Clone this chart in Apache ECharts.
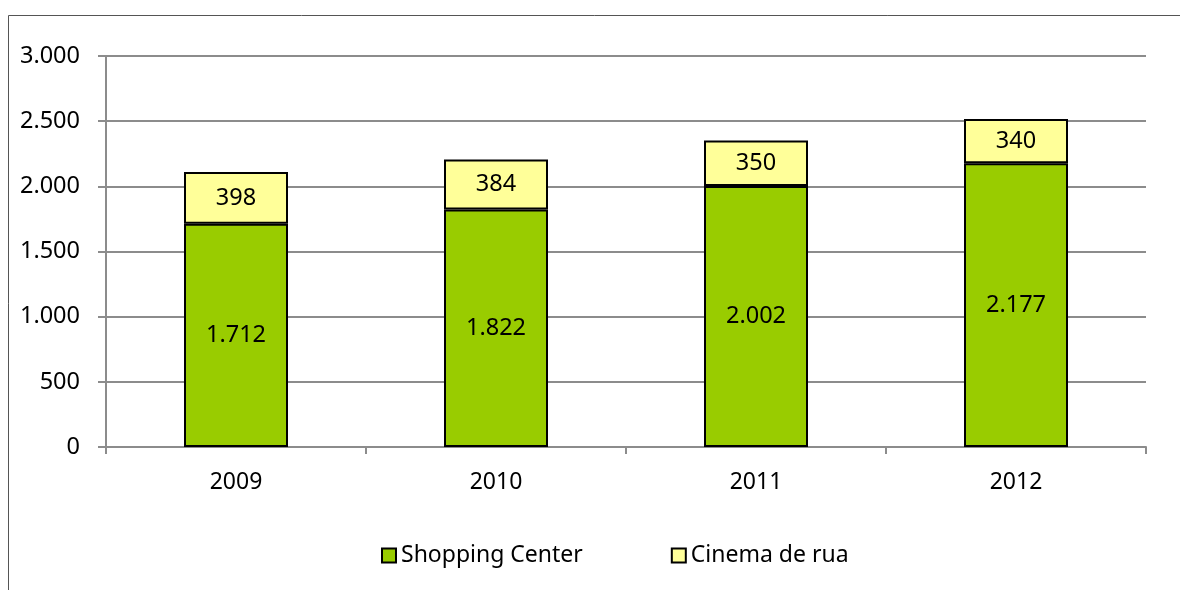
<!DOCTYPE html>
<html>
<head>
<meta charset="utf-8">
<script src="https://cdn.jsdelivr.net/npm/echarts@6/dist/echarts.min.js"></script>
<style>
  html, body { margin: 0; padding: 0; background: #fff; }
  #chart { width: 1180px; height: 590px; }
</style>
</head>
<body>
<div id="chart"></div>
<script>
var years = ['2009', '2010', '2011', '2012'];
var shopping = [1712, 1822, 2002, 2177];
var cinemaRua = [398, 384, 350, 340];
var yTicks = [0, 500, 1000, 1500, 2000, 2500, 3000];

/* formato pt-BR: separador de milhar com ponto */
var fmt = function(v) {
    return String(v).replace(/\B(?=(\d{3})+(?!\d))/g, '.');
};

var font = 'Noto Sans';
var myChart = echarts.init(document.getElementById('chart'));

var option = {
    animation: false,
    textStyle: { fontFamily: font },
    graphic: [{
        type: 'rect',
        shape: { x: 8.5, y: 15.5, width: 1200, height: 600 },
        style: { fill: 'none', stroke: '#555', lineWidth: 1 },
        silent: true
    }],
    grid: { left: 106, right: 34, top: 56, bottom: 143 },
    legend: {
        bottom: 18,
        left: 376,
        icon: 'rect',
        itemWidth: 14,
        itemHeight: 14,
        itemGap: 88,
        textStyle: { fontFamily: font, fontSize: 23, color: '#000' },
        data: ['Shopping Center', 'Cinema de rua']
    },
    xAxis: {
        type: 'category',
        data: years,
        axisLine: { lineStyle: { color: '#8c8c8c', width: 2 } },
        axisTick: { show: true, length: 7, lineStyle: { color: '#8c8c8c', width: 2 } },
        axisLabel: { color: '#000', fontSize: 23, margin: 24, fontFamily: font }
    },
    yAxis: {
        type: 'value',
        min: yTicks[0],
        max: yTicks[yTicks.length - 1],
        interval: 500,
        axisLine: { show: true, lineStyle: { color: '#8c8c8c', width: 2 } },
        axisTick: { show: true, length: 8, lineStyle: { color: '#8c8c8c', width: 2 } },
        splitLine: { lineStyle: { color: '#8c8c8c', width: 2 } },
        axisLabel: { color: '#000', fontSize: 23.5, margin: 26, fontFamily: font, formatter: fmt }
    },
    series: [
        {
            name: 'Shopping Center',
            type: 'bar',
            stack: 'total',
            barWidth: '40%',
            data: shopping,
            itemStyle: { color: '#99CC00', borderColor: '#000', borderWidth: 2 },
            label: {
                show: true,
                position: 'inside',
                color: '#000',
                fontSize: 23.5,
                fontFamily: font,
                formatter: function(p) { return fmt(p.value); }
            }
        },
        {
            name: 'Cinema de rua',
            type: 'bar',
            stack: 'total',
            barWidth: '40%',
            data: cinemaRua,
            itemStyle: { color: '#FFFF99', borderColor: '#000', borderWidth: 2 },
            label: {
                show: true,
                position: 'inside',
                color: '#000',
                fontSize: 23.5,
                fontFamily: font,
                formatter: function(p) { return fmt(p.value); }
            }
        }
    ]
};

myChart.setOption(option);
</script>
</body>
</html>
